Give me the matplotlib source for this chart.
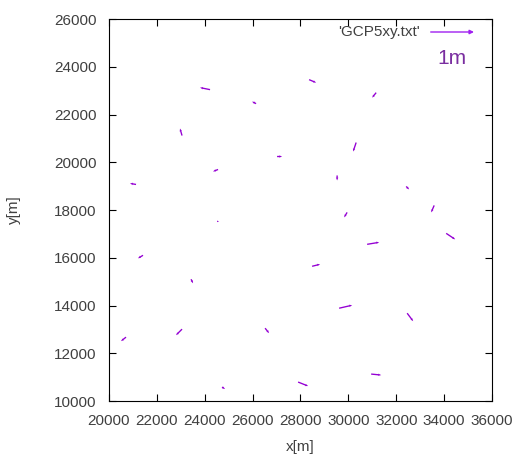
import numpy as np
import matplotlib
matplotlib.use('Agg')
import matplotlib.pyplot as plt

plt.rcParams['font.family'] = ['Liberation Sans', 'DejaVu Sans']

# GCP positions [m] and plotted displacement vectors (plot units)
gx = [24222, 26145, 23051, 27022, 21129, 24556, 24514, 28360, 31161, 30325,
      29530, 32415, 33585, 29948, 34087, 30784, 21421, 23428, 20711, 23051,
      26521, 24723, 28485, 29614, 32456, 27900, 30952]
gy = [23042, 22456, 21119, 20241, 19071, 19698, 17524, 23460, 22916, 20826,
      19447, 18987, 18193, 17900, 17022, 16563, 16103, 15100, 12675, 13010,
      13051, 10585, 15643, 13887, 13678, 10794, 11129]
dx = [-418, -167, -84, 209, -251, -209, 84, 293, -167, -125,
      0, 125, -125, -125, 376, 502, -209, 84, -209, -251,
      167, 125, 334, 543, 251, 418, 418]
dy = [84, 84, 293, 0, 42, -84, 0, -125, -209, -376,
      -209, -125, -293, -209, -251, 84, -125, -167, -167, -251,
      -209, -84, 84, 125, -334, -167, -42]

xticks = np.arange(20000, 36001, 2000)
yticks = np.arange(10000, 26001, 2000)

fig = plt.figure(figsize=(5.23, 4.57), dpi=100)
ax = fig.add_axes([0.2084, 0.1225, 0.7323, 0.8359])

ax.quiver(gx, gy, dx, dy, angles='xy', scale_units='xy', scale=1,
          color='#9400d3', width=0.0035, headwidth=1.8, headlength=2.2,
          headaxislength=2.0)

ax.set_xlim(20000, 36000)
ax.set_ylim(10000, 26000)
ax.set_xticks(xticks)
ax.set_yticks(yticks)
ax.tick_params(direction='in', top=True, right=True, length=5,
               labelsize=11, labelcolor='#404040', pad=9)
ax.set_xlabel('x[m]', fontsize=11, color='#404040', labelpad=9)
ax.set_ylabel('y[m]', fontsize=11, color='#404040', labelpad=24)

# legend entry drawn like gnuplot key
ax.text(0.813, 0.966, "'GCP5xy.txt'", transform=ax.transAxes, ha='right',
        va='center', fontsize=11, color='#404040')
ax.annotate('', xy=(0.953, 0.966), xytext=(0.84, 0.966),
            xycoords='axes fraction', textcoords='axes fraction',
            arrowprops=dict(arrowstyle='-|>', color='#a020f0', lw=1.0,
                            mutation_scale=6, shrinkA=0, shrinkB=0))
ax.text(0.895, 0.897, '1m', transform=ax.transAxes, ha='center',
        va='center', fontsize=15, color='#7a2ea0')

fig.savefig('out.png', dpi=100)
